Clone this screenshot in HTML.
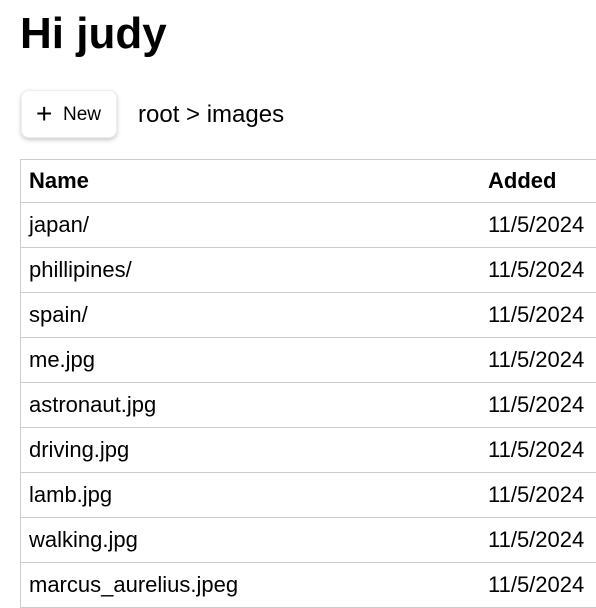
<!DOCTYPE html>
<html><head><style>
body{margin:0;width:596px;height:596px;overflow:hidden;background:#fff;font-family:"Liberation Sans",sans-serif;color:#000;position:relative}
.a{position:absolute;white-space:nowrap}
h1{position:absolute;left:20px;top:7px;margin:0;font-size:44px;line-height:54px;font-weight:bold}
.btn{position:absolute;left:21px;top:90px;width:96px;height:48px;border-radius:8px;background:#fff;box-shadow:0 2px 5px rgba(0,0,0,0.22);border:1px solid #eee;box-sizing:border-box}
.tbl{position:absolute;left:20px;top:159px;width:600px;border-left:1px solid #ccc;border-top:1px solid #ccc}
.row{height:44px;border-bottom:1px solid #ccc;position:relative;font-size:22px}
.row span{position:absolute;top:9px}
</style></head><body>
<h1>Hi judy</h1>
<div class="btn"><span class="a" style="left:14px;top:9px;font-size:28px;line-height:28px">+</span><span class="a" style="left:41px;top:13px;font-size:19px;line-height:22px">New</span></div>
<div class="a" style="left:138px;top:101px;font-size:24px;line-height:28px">root &gt; images</div>
<div class="tbl">
<div class="row" style="height:42px;font-weight:bold"><span style="left:8px;top:8px">Name</span><span style="left:467px;top:8px">Added</span></div>
<div class="row"><span style="left:8px">japan/</span><span style="left:467px">11/5/2024</span></div>
<div class="row"><span style="left:8px">phillipines/</span><span style="left:467px">11/5/2024</span></div>
<div class="row"><span style="left:8px">spain/</span><span style="left:467px">11/5/2024</span></div>
<div class="row"><span style="left:8px">me.jpg</span><span style="left:467px">11/5/2024</span></div>
<div class="row"><span style="left:8px">astronaut.jpg</span><span style="left:467px">11/5/2024</span></div>
<div class="row"><span style="left:8px">driving.jpg</span><span style="left:467px">11/5/2024</span></div>
<div class="row"><span style="left:8px">lamb.jpg</span><span style="left:467px">11/5/2024</span></div>
<div class="row"><span style="left:8px">walking.jpg</span><span style="left:467px">11/5/2024</span></div>
<div class="row"><span style="left:8px">marcus_aurelius.jpeg</span><span style="left:467px">11/5/2024</span></div>
</div>
</body></html>
